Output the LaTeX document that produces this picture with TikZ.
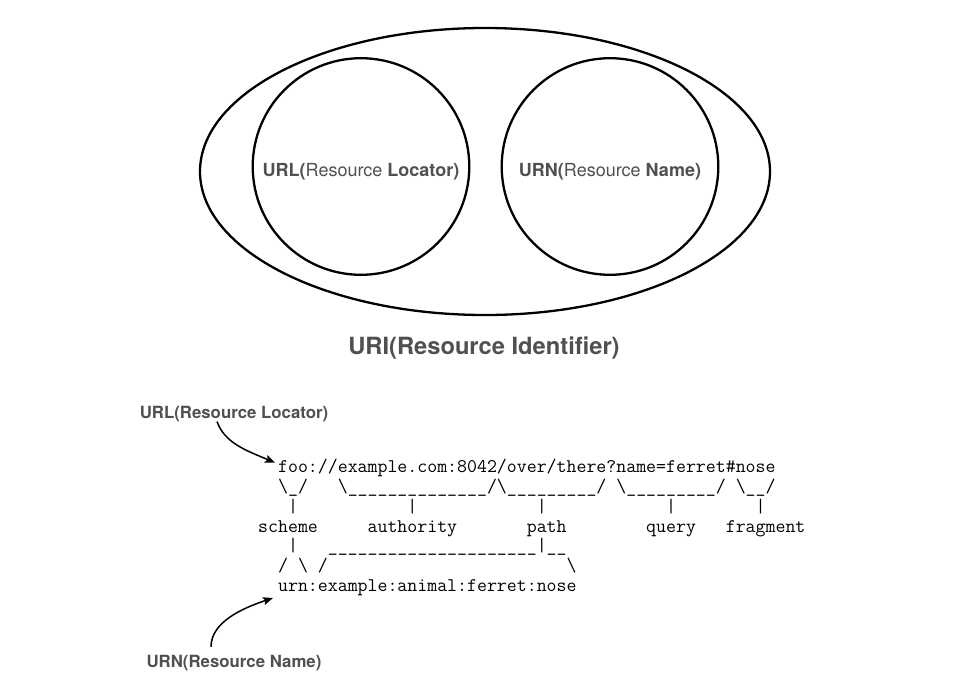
\documentclass[tikz,border=0pt]{standalone}
\usepackage{fontspec}
\setsansfont{TeX Gyre Heros}
\usetikzlibrary{arrows.meta,shapes.geometric}
\definecolor{labelgray}{RGB}{80,80,80}
\newcommand\bs{\textbackslash}

\begin{document}
\begin{tikzpicture}[
            x=1pt, y=-1pt,
            every node/.style={inner sep=0pt},
            setline/.style={draw, line width=2.3pt},
            settext/.style={
              text=labelgray,
              font=\sffamily\fontsize{18}{20}\selectfont,
              text height=19pt, text depth=0pt,
            },
            settitle/.style={text=labelgray, anchor=base, font=\sffamily\bfseries\fontsize{23.7}{28}\selectfont},
            tagtext/.style={text=labelgray, anchor=base, font=\sffamily\bfseries\fontsize{16.8}{20}\selectfont},
            asciiline/.style={anchor=base west, font=\fontsize{19.32}{20}\ttfamily},
            pointer/.style={line width=1.5pt, ->},
            >={Stealth[length=10pt,width=8pt,inset=2pt]},
          ]
          \useasboundingbox (0,0) rectangle (970,689);
          \node[setline, ellipse, minimum width=570pt, minimum height=287pt] (uri) at (485,171.5) {};
          \node[setline, circle, minimum size=216.6pt, settext] (url) at (361,166.5) {{\bfseries URL(}Resource {\bfseries Locator)}};
          \node[setline, circle, minimum size=216.6pt, settext] (urn) at (610,166.5) {{\bfseries URN(}Resource {\bfseries Name)}};
          \node[settitle] (uriname) at (484,354) {URI(Resource Identifier)};
          \node[tagtext] (urltag) at (234,418) {URL(Resource Locator)};
          \node[tagtext] (urntag) at (234,667.3) {URN(Resource Name)};
          % the example from RFC 3986
          \node[asciiline] (uriline) at (258,472.3) {~~foo://example.com:8042/over/there?name=ferret\#nose};
          \node[asciiline] (braces) at (258,492.2) {~~\bs\_/~~~\bs\_\_\_\_\_\_\_\_\_\_\_\_\_\_/\bs\_\_\_\_\_\_\_\_\_/~\bs\_\_\_\_\_\_\_\_\_/~\bs\_\_/};
          \node[asciiline] (bars) at (258,512.1) {~~~|~~~~~~~~~~~|~~~~~~~~~~~~|~~~~~~~~~~~~|~~~~~~~~|};
          \node[asciiline] (parts) at (258,532.0) {scheme~~~~~authority~~~~~~~path~~~~~~~~query~~~fragment};
          \node[asciiline] (joins) at (258,551.9) {~~~|~~~\_\_\_\_\_\_\_\_\_\_\_\_\_\_\_\_\_\_\_\_\_|\_\_};
          \node[asciiline] (slashes) at (258,571.8) {~~/~\bs~/~~~~~~~~~~~~~~~~~~~~~~~~\bs};
          \node[asciiline] (urnline) at (258,591.7) {~~urn:example:animal:ferret:nose};
          \draw[pointer] ([xshift=-17pt]urltag.south) .. controls +(8,22) and +(-28,-12) .. ([xshift=17pt,yshift=9.6pt]uriline.base west);
          \draw[pointer] ([xshift=-23pt,yshift=8pt]urntag.north) .. controls +(0,-25) and +(-30,10) .. ([xshift=15pt,yshift=-6.3pt]urnline.base west);
\end{tikzpicture}
\end{document}
